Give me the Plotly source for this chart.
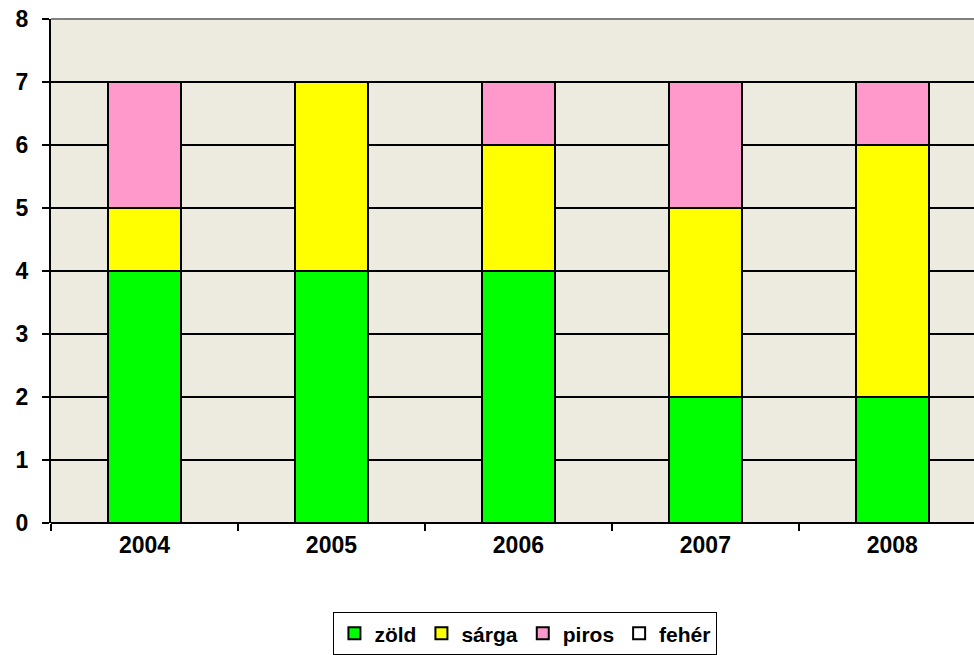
import plotly.graph_objects as go

years = ["2004", "2005", "2006", "2007", "2008"]
zold = [4, 4, 4, 2, 2]
sarga = [1, 3, 2, 3, 4]
piros = [2, 0, 1, 2, 1]
feher = [0, 0, 0, 0, 0]

series = [
    ("zöld", zold, "#00FF00"),
    ("sárga", sarga, "#FFFF00"),
    ("piros", piros, "#FF99CC"),
    ("fehér", feher, "#FFFFFF"),
]

FAM = "Liberation Sans, Arial, sans-serif"

fig = go.Figure()
for name, vals, col in series:
    fig.add_trace(go.Bar(
        x=years, y=vals, name=name, width=0.39,
        marker=dict(color=col, line=dict(color="black", width=2)),
    ))

fig.update_layout(
    barmode="stack",
    width=974, height=655,
    margin=dict(l=51, r=0, t=19, b=132, autoexpand=False),
    paper_bgcolor="white",
    plot_bgcolor="#EDEAE0",
    font=dict(family=FAM, size=18, color="black"),
    showlegend=True,
    legend=dict(
        orientation="h", x=0.514, xanchor="center", y=-0.177, yanchor="top",
        bordercolor="black", borderwidth=1,
        font=dict(family=FAM, size=21, color="black", weight="bold"),
        itemwidth=30, traceorder="normal", tracegroupgap=0,
    ),
    xaxis=dict(
        type="category", range=[-0.5, 4.437], automargin=False,
        ticks="outside", tickson="boundaries", ticklen=7, tickwidth=1.5, tickcolor="black",
        showgrid=False, showline=False,
        tickfont=dict(family=FAM, size=23, color="black", weight="bold"),
        ticklabelstandoff=6,
    ),
    yaxis=dict(
        range=[0, 8], dtick=1, ticks="outside", ticklen=7, tickwidth=2, tickcolor="black",
        automargin=False,
        showgrid=True, gridcolor="black", gridwidth=2,
        showline=True, linecolor="black", linewidth=2,
        zeroline=True, zerolinecolor="black", zerolinewidth=2,
        tickfont=dict(family=FAM, size=23, color="black", weight="bold"),
        ticklabelstandoff=9,
    ),
)

fig.add_shape(type="line", xref="paper", yref="paper", x0=0, x1=1, y0=1, y1=1,
              line=dict(color="#808080", width=2), layer="above")

fig.write_html("out.html", config={"displayModeBar": False},
               post_script="document.body.style.margin='0';document.body.style.overflow='hidden';")
